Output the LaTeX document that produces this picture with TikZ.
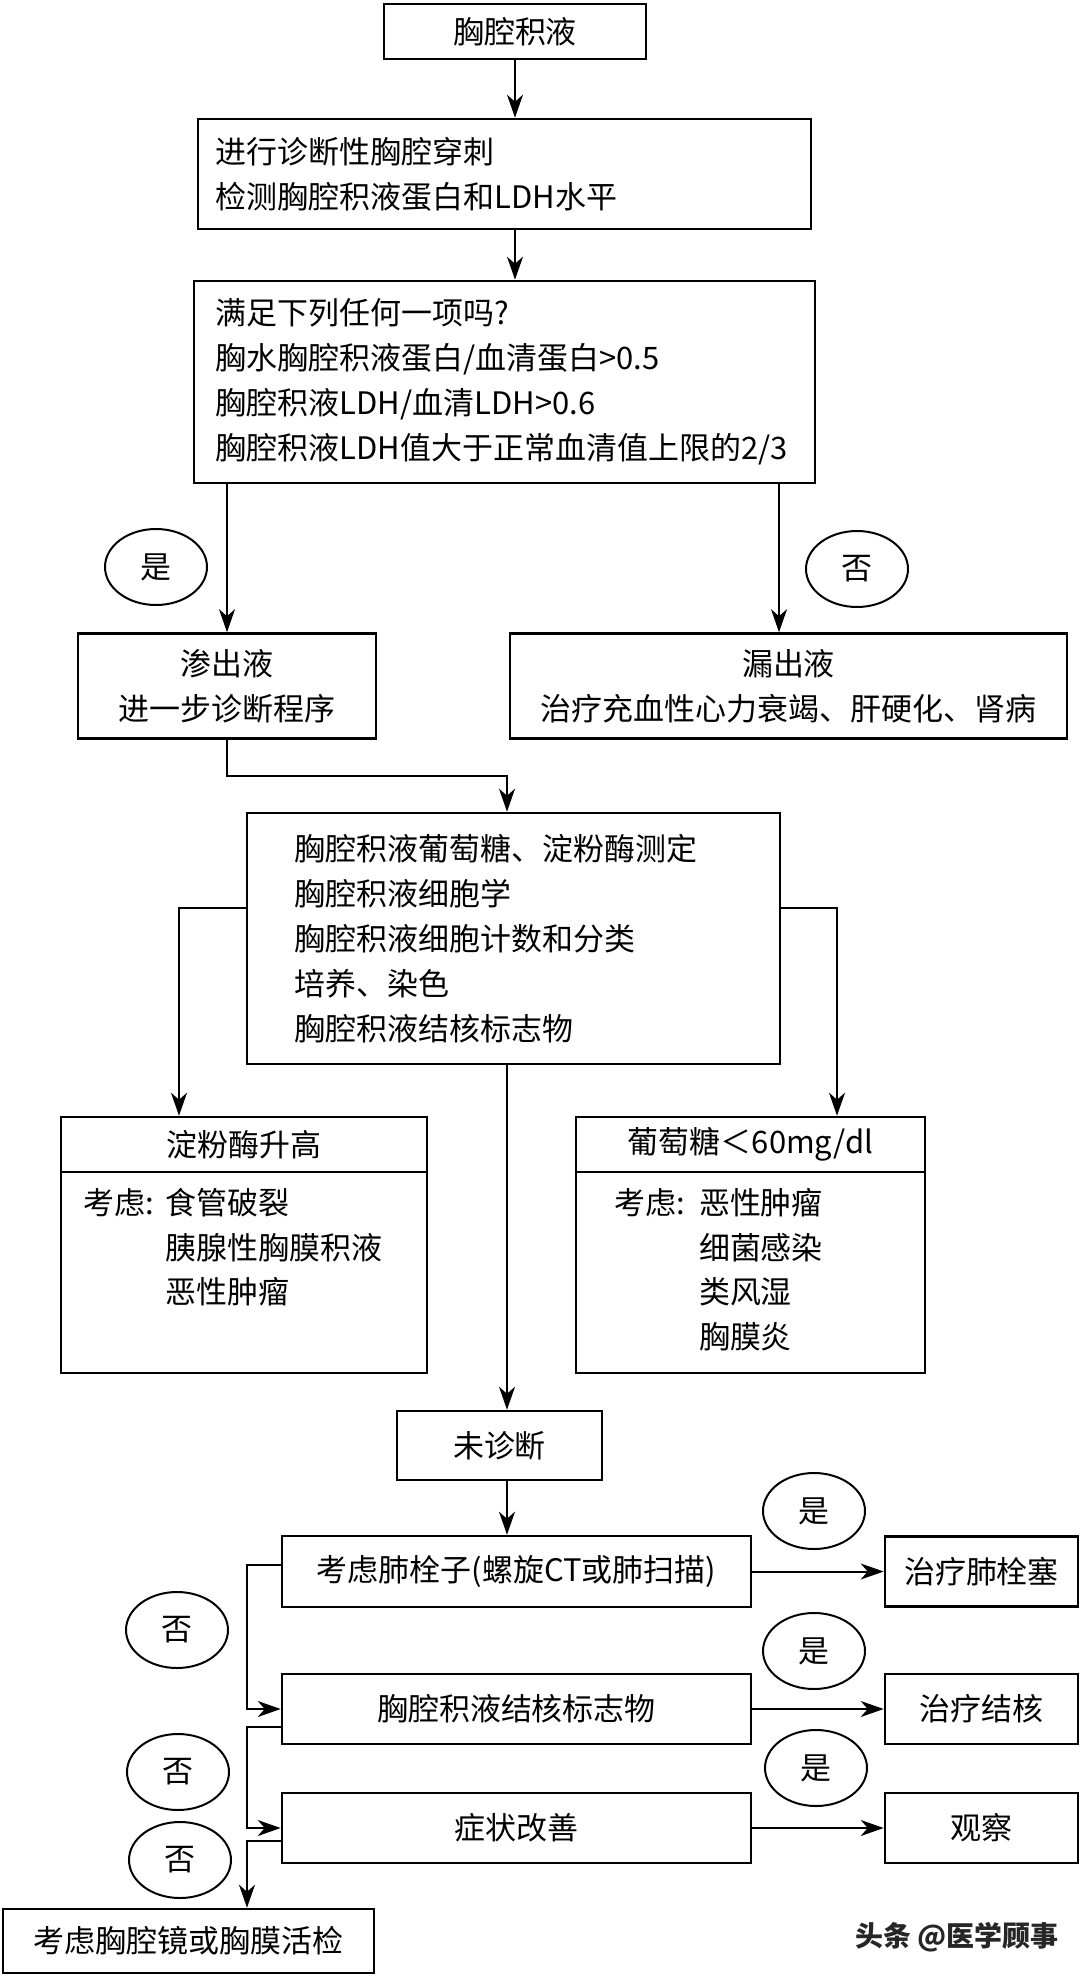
\documentclass[tikz,border=0pt]{standalone}
\usepackage{fontspec}
\setmainfont{Noto Sans CJK SC}
\usetikzlibrary{arrows.meta,shapes.geometric}
\setlength{\parindent}{0pt}
\def\s{0.0176}
\def\punkt#1#2{({(#1)*\s},{-(#2)*\s})}
\tikzset{
  kasten/.style={draw, line width=1.3pt, inner sep=0pt},
  gr/.style 2 args={minimum width={(#1)*\s*1cm}, minimum height={(#2)*\s*1cm}},
  antwort/.style={draw, ellipse, line width=1pt, inner sep=0pt,
    minimum width={102*\s*1cm}, minimum height={76*\s*1cm}},
}

\begin{document}
\begin{tikzpicture}[>={Stealth[length=11.5pt,width=8pt,inset=3.5pt]},line width=1pt,
  font=\fontsize{15.5}{22.5}\selectfont]
\useasboundingbox \punkt{0}{0} rectangle \punkt{1080}{1976};
\fill[white] \punkt{0}{0} rectangle \punkt{1080}{1976};

\node[kasten, gr={262}{55}] (fluid) at \punkt{515}{31.5} {胸腔积液};
\node[kasten, gr={613}{110}, text width=10.155cm, inner xsep=0.317cm, align=left]
  (punct) at \punkt{504.5}{174} {进行诊断性胸腔穿刺\\检测胸腔积液蛋白和LDH水平};
\node[kasten, gr={621}{202}, text width=10.155cm, inner xsep=0.387cm, align=left]
  (crit) at \punkt{504.5}{382} {满足下列任何一项吗?\\胸水胸腔积液蛋白/血清蛋白>0.5\\
  胸腔积液LDH/血清LDH>0.6\\胸腔积液LDH值大于正常血清值上限的2/3};
\node[kasten, gr={298}{105}, align=center] (exud) at \punkt{227}{686} {渗出液\\进一步诊断程序};
\node[kasten, gr={557}{105}, align=center] (trans) at \punkt{788.5}{686}
  {漏出液\\治疗充血性心力衰竭、肝硬化、肾病};
\node[kasten, gr={533}{251}, text width=7.691cm, inner xsep=0.845cm, align=left]
  (tests) at \punkt{513.5}{938.5} {胸腔积液葡萄糖、淀粉酶测定\\胸腔积液细胞学\\
  胸腔积液细胞计数和分类\\培养、染色\\胸腔积液结核标志物};

\node[kasten, gr={366}{55}] (amylhead) at \punkt{244}{1144.5} {淀粉酶升高};
\node[kasten, gr={366}{201}, text width=5.632cm, inner xsep=0.405cm, align=left]
  (amylbody) at \punkt{244}{1272.5}
  {\begin{tabular}{@{}p{1.43cm}@{}l@{}}考虑: & 食管破裂\\ & 胰腺性胸膜积液\\ & 恶性肿瘤\\ & \end{tabular}};
\node[kasten, gr={349}{55}] (glucohead) at \punkt{750.5}{1144.5} {葡萄糖＜60mg/dl};
\node[kasten, gr={349}{201}, text width=4.77cm, inner xsep=0.686cm, align=left]
  (glucobody) at \punkt{750.5}{1272.5}
  {\begin{tabular}{@{}p{1.48cm}@{}l@{}}考虑: & 恶性肿瘤\\ & 细菌感染\\ & 类风湿\\ & 胸膜炎\end{tabular}};

\node[kasten, gr={205}{69}] (undiag) at \punkt{499.5}{1445.5} {未诊断};
\node[kasten, gr={469}{71}] (pe) at \punkt{516.5}{1571.5} {考虑肺栓子(螺旋CT或肺扫描)};
\node[kasten, gr={469}{70}] (tb) at \punkt{516.5}{1709} {胸腔积液结核标志物};
\node[kasten, gr={469}{70}] (sym) at \punkt{516.5}{1828} {症状改善};
\node[kasten, gr={193}{70}] (pept) at \punkt{981.5}{1571.5} {治疗肺栓塞};
\node[kasten, gr={193}{70}] (tbt) at \punkt{981.5}{1709} {治疗结核};
\node[kasten, gr={193}{70}] (obs) at \punkt{981.5}{1828} {观察};
\node[kasten, gr={371}{64}] (final) at \punkt{188.5}{1941} {考虑胸腔镜或胸膜活检};

\foreach \x/\y/\t/\n in {156/567/是/ja0, 857/569/否/nein0, 814/1511/是/ja1, 814/1651/是/ja2,
  816/1768/是/ja3, 177/1630/否/nein1, 178/1772/否/nein2, 180/1860/否/nein3}{
  \node[antwort] (\n) at \punkt{\x}{\y} {\t};
}

\node[text=black!85, font=\fontsize{14}{16}\selectfont\bfseries] (mark) at \punkt{957}{1937} {头条 @医学顾事};

\path \punkt{507}{776} coordinate (knick);
\path \punkt{179}{908} coordinate (links);
\path \punkt{837}{908} coordinate (rechts);
\path \punkt{507}{0} coordinate (achse);
\path \punkt{779}{0} coordinate (ast);
\path \punkt{247}{1565} coordinate (nA);
\path \punkt{247}{1727} coordinate (nB);
\path \punkt{247}{1841} coordinate (nC);

\draw[->] (fluid.south) -- (fluid.south |- punct.north);
\draw[->] (punct.south -| fluid.south) -- (crit.north -| fluid.south);
\draw[->] (crit.south -| exud.north) -- (exud.north);
\draw[->] (ast |- crit.south) -- (ast |- trans.north);
\draw[->] (exud.south) |- (knick) -- (knick |- tests.north);
\draw[->] (links -| tests.west) -- (links) -- (links |- amylhead.north);
\draw[->] (rechts -| tests.east) -- (rechts) -- (rechts |- glucohead.north);
\draw[->] (achse |- tests.south) -- (achse |- undiag.north);
\draw[->] (achse |- undiag.south) -- (achse |- pe.north);
\draw[->] (pe) -- (pept);
\draw[->] (tb) -- (tbt);
\draw[->] (sym) -- (obs);
\draw[->] (nA -| pe.west) -- (nA) |- (tb.west);
\draw[->] (nB -| tb.west) -- (nB) |- (sym.west);
\draw[->] (nC -| sym.west) -- (nC) -- (nC |- final.north);
\end{tikzpicture}
\end{document}
